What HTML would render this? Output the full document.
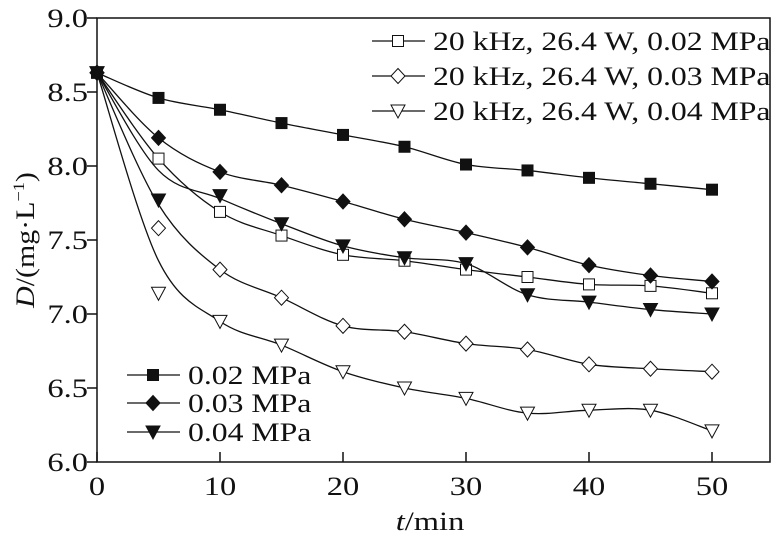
<!DOCTYPE html>
<html><head><meta charset="utf-8"><style>
body{margin:0;background:#fff}
svg text{font-family:"Liberation Serif",serif;fill:#111}
</style></head><body>
<svg id="c" width="781" height="542" viewBox="0 0 781 542"></svg>
<script>
const times=[0,5,10,15,20,25,30,35,40,45,50];
const filledSquare=[8.63,8.46,8.38,8.29,8.21,8.13,8.01,7.97,7.92,7.88,7.84];
const filledDiamond=[8.63,8.19,7.96,7.87,7.76,7.64,7.55,7.45,7.33,7.26,7.22];
const filledTriangle=[8.63,7.77,7.80,7.61,7.46,7.38,7.34,7.13,7.08,7.03,7.00];
const openSquare=[8.63,8.05,7.69,7.53,7.40,7.36,7.30,7.25,7.20,7.19,7.14];
const openDiamond=[8.63,7.58,7.30,7.11,6.92,6.88,6.80,6.76,6.66,6.63,6.61];
const openTriangle=[8.63,7.14,6.95,6.79,6.61,6.50,6.43,6.33,6.35,6.35,6.21];
// smoothed fit curves (differ from markers at t=5)
const fitFilledTriangle=[8.63,7.97,7.78,7.61,7.46,7.38,7.34,7.13,7.08,7.03,7.00];
const fitOpenSquare=[8.63,8.05,7.69,7.53,7.40,7.36,7.30,7.25,7.20,7.19,7.14];
const fitOpenDiamond=[8.63,7.74,7.30,7.11,6.92,6.88,6.80,6.76,6.66,6.63,6.61];
const fitOpenTriangle=[8.63,7.36,6.95,6.79,6.61,6.50,6.43,6.33,6.35,6.35,6.21];
const xTicks=[0,10,20,30,40,50];
const yTicks=[6.0,6.5,7.0,7.5,8.0,8.5,9.0];
const ns="http://www.w3.org/2000/svg",svg=document.getElementById('c');
const X=t=>97+t*12.3, Y=v=>18+(9-v)*148;
const SX=1.25;
function mk(tag,at,parent){const e=document.createElementNS(ns,tag);for(const k in at)e.setAttribute(k,at[k]);(parent||svg).appendChild(e);return e;}
function txt(x,y,size,anchor,parent){return mk('text',{x:0,y:0,'font-size':size,'text-anchor':anchor,transform:`translate(${x},${y}) scale(${SX},1)`},parent);}
let a=mk('path',{d:'M97,18 H770 V462 H97 Z',fill:'none',stroke:'#111','stroke-width':1.5});


xTicks.forEach(t=>{const l=mk('line',{x1:X(t),x2:X(t),y1:462,y2:452,stroke:'#111','stroke-width':1.5});


const tx=txt(X(t),495,26,'middle');tx.textContent=t;

});
yTicks.forEach(v=>{const l=mk('line',{x1:87,x2:97,y1:Y(v),y2:Y(v),stroke:'#111','stroke-width':1.5});


const tx=txt(88,Y(v)+9,26,'end');tx.textContent=v.toFixed(1);

});
let xt=txt(430,530,26,'middle');xt.innerHTML='<tspan font-style="italic">t</tspan>/min';


let yt=mk('text',{x:0,y:0,'font-size':26,'text-anchor':'middle',transform:'translate(34,240) rotate(-90) scale(1.15,1)'});yt.innerHTML='<tspan font-style="italic">D</tspan>/(mg·L<tspan dy="-10" font-size="16">−1</tspan><tspan dy="10">)</tspan>';


function marker(type,x,y,g){
 const fill=type.startsWith('f')?'#111':'#fff';const s=type.slice(1);let e;
 if(s==='s')e=mk('rect',{x:x-5.5,y:y-5.5,width:11,height:11,fill,stroke:'#111','stroke-width':1},g);
 else if(s==='d')e=mk('path',{d:`M${x},${y-7.5}L${x+7},${y}L${x},${y+7.5}L${x-7},${y}Z`,fill,stroke:'#111','stroke-width':1},g);
 else e=mk('path',{d:`M${x-7},${y-6}L${x+7},${y-6}L${x},${y+7}Z`,fill,stroke:'#111','stroke-width':1},g);
 
 
}
function spline(pts){let d=`M${pts[0][0]},${pts[0][1]}`;const k=6;for(let i=0;i<pts.length-1;i++){const p0=pts[Math.max(i-1,0)],p1=pts[i],p2=pts[i+1],p3=pts[Math.min(i+2,pts.length-1)];
 d+=`C${p1[0]+(p2[0]-p0[0])/k},${p1[1]+(p2[1]-p0[1])/k} ${p2[0]-(p3[0]-p1[0])/k},${p2[1]-(p3[1]-p1[1])/k} ${p2[0]},${p2[1]}`;}return d;}
const series=[['os',openSquare,fitOpenSquare,'series-open-square'],['od',openDiamond,fitOpenDiamond,'series-open-diamond'],['ot',openTriangle,fitOpenTriangle,'series-open-triangle'],['fs',filledSquare,filledSquare,'series-0.02-mpa'],['fd',filledDiamond,filledDiamond,'series-0.03-mpa'],['ft',filledTriangle,fitFilledTriangle,'series-0.04-mpa']];
series.forEach(([type,vals,fit,name])=>{const g=mk('g',{});
 
 
 const cpts=times.map((t,i)=>[X(t),Y(fit[i])]);
 const p=mk('path',{d:spline(cpts),fill:'none',stroke:'#111','stroke-width':1.3},g);
 
 
 times.forEach((t,i)=>marker(type,X(t),Y(vals[i]),g));});
const legends=[['os','20 kHz, 26.4 W, 0.02 MPa',372,41],['od','20 kHz, 26.4 W, 0.03 MPa',372,76],['ot','20 kHz, 26.4 W, 0.04 MPa',372,111],['fs','0.02 MPa',127,375],['fd','0.03 MPa',127,403],['ft','0.04 MPa',127,432]];
legends.forEach(([type,label,x,y])=>{const g=mk('g',{});
 
 
 mk('line',{x1:x,x2:x+53,y1:y,y2:y,stroke:'#111','stroke-width':1.3},g);
 marker(type,x+26,y,g);
 const t=mk('text',{x:0,y:0,'font-size':26,transform:`translate(${x+61},${y+9}) scale(1.22,1)`},g);t.textContent=label;});
</script>
</body></html>
